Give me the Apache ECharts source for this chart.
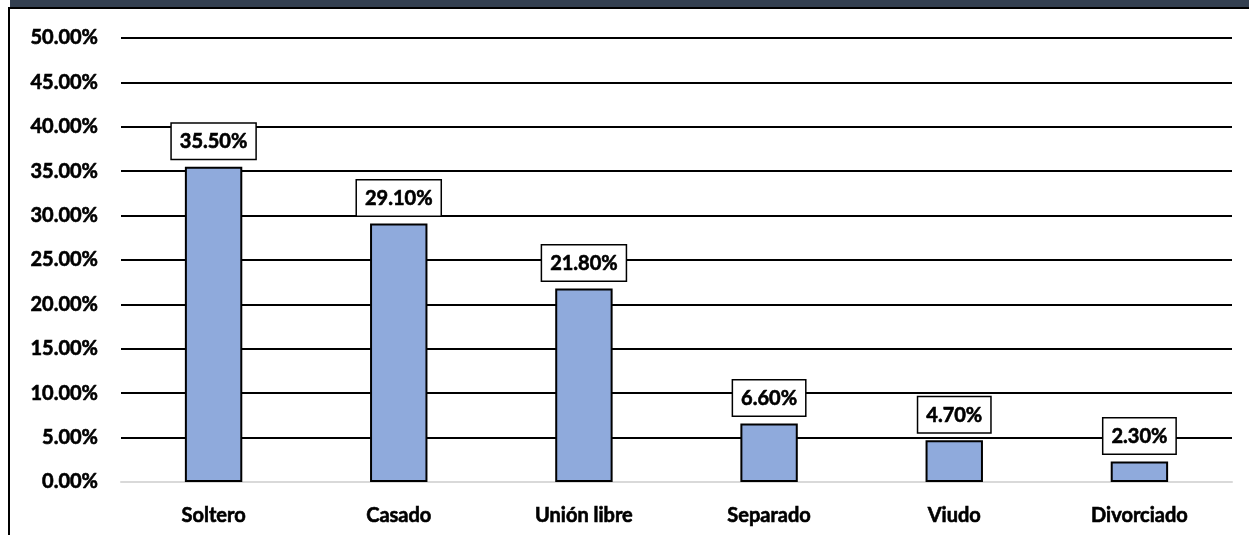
<!DOCTYPE html>
<html>
<head>
<meta charset="utf-8">
<script src="https://cdn.jsdelivr.net/npm/echarts@6/dist/echarts.min.js"></script>
<style>
html,body{margin:0;padding:0;background:#fff;}
#c{width:1249px;height:535px;}
</style>
</head>
<body>
<div id="c"></div>
<script>
const categories = ['Soltero', 'Casado', 'Unión libre', 'Separado', 'Viudo', 'Divorciado'];
const values = [35.5, 29.1, 21.8, 6.6, 4.7, 2.3];
const yMin = 0, yMax = 50, yStep = 5;

const FONT = 'Lato, "Open Sans", sans-serif';
const chart = echarts.init(document.getElementById('c'), null, {renderer: 'canvas'});
chart.setOption({
  animation: false,
  backgroundColor: '#ffffff',
  graphic: [
    {type: 'rect', shape: {x: 10, y: 0, width: 1239, height: 7}, style: {fill: '#333f50'}, silent: true},
    {type: 'line', shape: {x1: 8, y1: 8, x2: 1249, y2: 8}, style: {stroke: '#000', lineWidth: 2}, silent: true},
    {type: 'line', shape: {x1: 9, y1: 8, x2: 9, y2: 535}, style: {stroke: '#000', lineWidth: 2}, silent: true}
  ],
  grid: {left: 121, right: 17, top: 38, bottom: 53, containLabel: false},
  xAxis: {
    type: 'category',
    data: categories,
    axisLine: {show: true, lineStyle: {color: '#d9d9d9', width: 2}},
    axisTick: {show: false},
    axisLabel: {color: '#000', fontWeight: 'bold', fontSize: 20, fontFamily: FONT, margin: 24,
      textBorderColor: '#000', textBorderWidth: 0.6}
  },
  yAxis: {
    type: 'value',
    min: yMin, max: yMax, interval: yStep,
    axisLine: {show: false},
    axisTick: {show: false},
    splitLine: {show: true, lineStyle: {color: '#000', width: 2}},
    axisLabel: {
      color: '#000', fontWeight: 'bold', fontSize: 20, fontFamily: FONT, margin: 23,
      textBorderColor: '#000', textBorderWidth: 0.6,
      formatter: v => v.toFixed(2) + '%'
    }
  },
  series: [{
    type: 'bar',
    data: values,
    barWidth: '31%',
    itemStyle: {color: '#8faadc', borderColor: '#000', borderWidth: 2},
    label: {
      show: true,
      position: 'top',
      distance: 8,
      formatter: p => p.value.toFixed(2) + '%',
      color: '#000', fontWeight: 'bold', fontSize: 20, fontFamily: FONT,
      textBorderColor: '#000', textBorderWidth: 0.6,
      backgroundColor: '#fff',
      borderColor: '#000', borderWidth: 1.5,
      padding: [8, 8, 7, 8]
    }
  }]
});
</script>
</body>
</html>
